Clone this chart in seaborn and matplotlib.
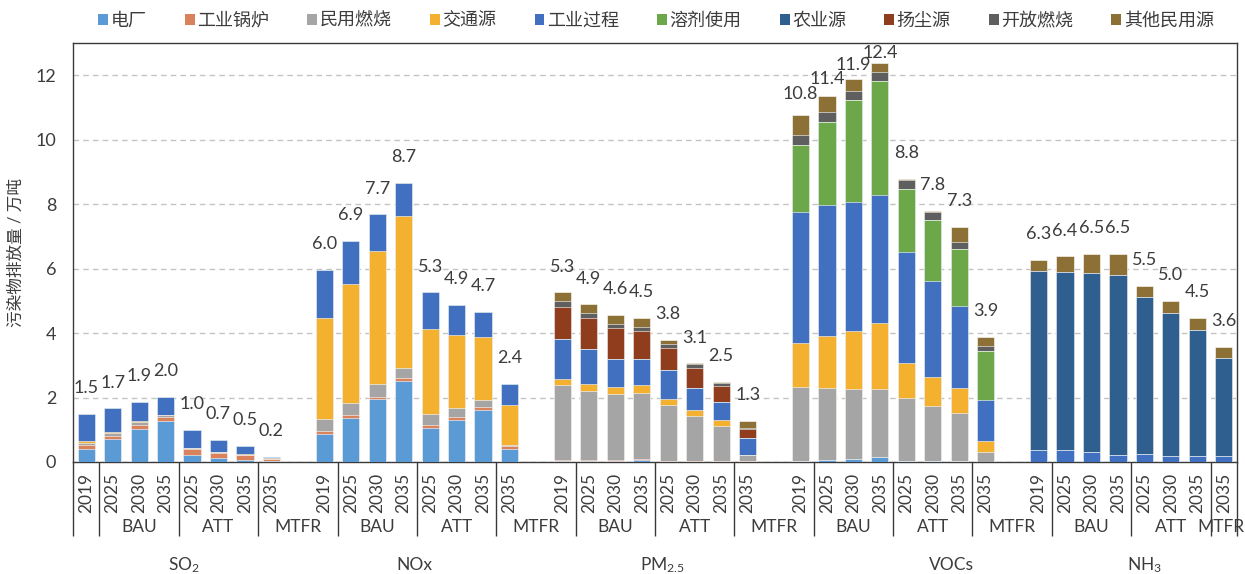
import numpy as np
import pandas as pd
import matplotlib
matplotlib.use("Agg")
import matplotlib.pyplot as plt
import matplotlib.transforms as mtransforms
from matplotlib.patches import Patch
import seaborn as sns

# ---- categories -------------------------------------------------------------
pollutants = [r"SO$_\mathregular{2}$", "NOx", r"PM$_\mathregular{2.5}$", "VOCs",
              r"NH$_\mathregular{3}$"]
years = ["2019", "2025", "2030", "2035", "2025", "2030", "2035", "2035"]
scenarios = ["BAU", "ATT", "MTFR"]
sources = ["电厂", "工业锅炉", "民用燃烧", "交通源", "工业过程",
           "溶剂使用", "农业源", "扬尘源", "开放燃烧", "其他民用源"]

# ---- emissions by source (万吨); per pollutant: 2019, BAU 25/30/35, ATT 25/30/35, MTFR 35
power = [0.40, 0.70, 1.02, 1.26, 0.22, 0.13, 0.06, 0.02,
         0.86, 1.36, 1.96, 2.50, 1.06, 1.29, 1.60, 0.39,
         0.02, 0.02, 0.02, 0.05, 0.01, 0.01, 0.01, 0.01,
         0.03, 0.05, 0.08, 0.17, 0.02, 0.02, 0.03, 0.01,
         0, 0, 0, 0, 0, 0, 0, 0]
boiler = [0.12, 0.12, 0.13, 0.15, 0.17, 0.15, 0.15, 0.07,
          0.10, 0.10, 0.05, 0.10, 0.10, 0.10, 0.10, 0.12,
          0.03, 0.03, 0.04, 0.03, 0.02, 0.02, 0.02, 0.01,
          0, 0, 0, 0, 0, 0, 0, 0,
          0, 0, 0, 0, 0, 0, 0, 0]
residential = [0.06, 0.07, 0.08, 0.04, 0.03, 0.02, 0.02, 0.01,
               0.37, 0.36, 0.40, 0.32, 0.32, 0.28, 0.21, 0.03,
               2.33, 2.15, 2.05, 2.05, 1.75, 1.40, 1.10, 0.19,
               2.31, 2.25, 2.17, 2.08, 1.97, 1.71, 1.48, 0.29,
               0, 0, 0, 0, 0, 0, 0, 0]
transport = [0.08, 0.05, 0.03, 0.02, 0.02, 0.01, 0.01, 0.01,
             3.15, 3.70, 4.15, 4.70, 2.64, 2.26, 1.98, 1.22,
             0.21, 0.21, 0.23, 0.26, 0.18, 0.18, 0.16, 0.01,
             1.35, 1.61, 1.82, 2.06, 1.09, 0.90, 0.78, 0.36,
             0, 0, 0, 0, 0, 0, 0, 0]
process = [0.84, 0.72, 0.61, 0.56, 0.55, 0.38, 0.26, 0.06,
           1.48, 1.35, 1.12, 1.05, 1.14, 0.94, 0.77, 0.67,
           1.24, 1.10, 0.87, 0.80, 0.89, 0.69, 0.56, 0.51,
           4.07, 4.05, 4.00, 3.96, 3.42, 3.00, 2.56, 1.26,
           0.37, 0.37, 0.30, 0.22, 0.24, 0.19, 0.18, 0.18]
solvent = [0, 0, 0, 0, 0, 0, 0, 0,
           0, 0, 0, 0, 0, 0, 0, 0,
           0, 0, 0, 0, 0, 0, 0, 0,
           2.09, 2.60, 3.15, 3.55, 1.97, 1.87, 1.77, 1.53,
           0, 0, 0, 0, 0, 0, 0, 0]
agriculture = [0, 0, 0, 0, 0, 0, 0, 0,
               0, 0, 0, 0, 0, 0, 0, 0,
               0, 0, 0, 0, 0, 0, 0, 0,
               0, 0, 0, 0, 0, 0, 0, 0,
               5.56, 5.54, 5.56, 5.57, 4.87, 4.43, 3.92, 3.06]
dust = [0, 0, 0, 0, 0, 0, 0, 0,
        0, 0, 0, 0, 0, 0, 0, 0,
        0.99, 0.97, 0.94, 0.86, 0.69, 0.62, 0.52, 0.29,
        0, 0, 0, 0, 0, 0, 0, 0,
        0, 0, 0, 0, 0, 0, 0, 0]
open_burning = [0, 0, 0, 0, 0, 0, 0, 0,
                0, 0, 0, 0, 0, 0, 0, 0,
                0.16, 0.14, 0.14, 0.13, 0.13, 0.12, 0.09, 0.05,
                0.31, 0.29, 0.30, 0.27, 0.29, 0.26, 0.21, 0.16,
                0, 0, 0, 0, 0, 0, 0, 0]
other_residential = [0, 0, 0, 0, 0, 0, 0, 0,
                     0, 0, 0, 0, 0, 0, 0, 0,
                     0.28, 0.27, 0.27, 0.28, 0.12, 0.02, 0.02, 0.20,
                     0.61, 0.52, 0.36, 0.28, 0.02, 0.02, 0.47, 0.26,
                     0.34, 0.47, 0.60, 0.67, 0.35, 0.37, 0.36, 0.34]

source_values = [power, boiler, residential, transport, process,
                 solvent, agriculture, dust, open_burning, other_residential]
colors = ["#5B9BD5", "#D9825B", "#A5A5A5", "#F3B12F", "#4170C0",
          "#6CA84A", "#2E5F8E", "#903D1E", "#5F5F5F", "#8C7035"]

# ---- style --------------------------------------------------------------------
sns.set_theme(style="white")
plt.rcParams["font.family"] = ["Lato", "Noto Sans CJK SC", "DejaVu Sans"]
plt.rcParams["mathtext.fontset"] = "custom"
plt.rcParams["mathtext.rm"] = "Lato"
plt.rcParams["mathtext.it"] = "Lato:italic"
text_color = "#3C3C3C"
line_color = "#3A3A3A"

# slot layout: 8 bars per pollutant, one empty slot between pollutants
n_per = len(years)
positions = [9 * p + j for p in range(len(pollutants)) for j in range(n_per)]

wide = pd.DataFrame({name: vals for name, vals in zip(sources, source_values)})
wide["pos"] = positions
cum = wide[sources].cumsum(axis=1)
totals = cum[sources[-1]].to_numpy()

fig = plt.figure(figsize=(12.45, 5.74), dpi=100)
ax = fig.add_axes([73 / 1245, 112 / 574, 1164 / 1245, 419 / 574])

# stacked bars: draw cumulative heights from the top layer down
for k in reversed(range(len(sources))):
    d = pd.DataFrame({"pos": wide["pos"], "height": cum[sources[k]]})
    sns.barplot(data=d, x="pos", y="height", native_scale=True, color=colors[k],
                saturation=1, width=0.65, errorbar=None, edgecolor="white",
                linewidth=0.4, ax=ax, zorder=3)

ax.set_xlim(-0.5, 43.5)
ax.set_ylim(0, 13)
ax.set_yticks(range(0, 13, 2))
ax.set_axisbelow(True)
ax.yaxis.grid(True, color="#C4C4C4", linestyle=(0, (4, 3)), linewidth=1)
ax.xaxis.grid(False)
for sp in ax.spines.values():
    sp.set_visible(True)
    sp.set_color(line_color)
    sp.set_linewidth(1)

ax.set_xticks(positions)
ax.set_xticklabels(years * len(pollutants), rotation=90, fontsize=12.5,
                   color=text_color)
ax.tick_params(axis="x", length=0, pad=8)
ax.tick_params(axis="y", length=0, pad=12, labelsize=13, labelcolor=text_color)
ax.set_xlabel("")
ax.set_ylabel("污染物排放量 / 万吨", fontsize=12, color=text_color)
ax.yaxis.label.set_va("center")
ax.yaxis.set_label_coords(-0.049, 0.5)

# total labels above each stack
for x, t in zip(positions, totals):
    off = 0.8 - 0.2 * max(0.0, t - 10)
    ax.text(x, t + off, f"{t:.1f}", ha="center", va="center",
            fontsize=13, color=text_color)

# multi-level category axis below the bars
trans = mtransforms.blended_transform_factory(ax.transData, ax.transAxes)
div_bottom = -74 / 419
dividers = [-0.5] + [0.5 + 3 * k for k in range(15)] + [43.5]
ax.vlines(dividers, div_bottom, 0, transform=trans, colors=line_color,
          linewidth=1, clip_on=False)
for k in range(15):
    lo, hi = 0.5 + 3 * k, min(3.5 + 3 * k, 43.5)
    xc = min((lo + hi) / 2, 42.9)
    ax.text(xc, -65 / 419, scenarios[k % 3], transform=trans,
            ha="center", va="center", fontsize=12.5, color=text_color)
pollutant_centers = [3.7, 12.4, 21.8, 32.7, 40.0]
for xc, name in zip(pollutant_centers, pollutants):
    ax.text(xc, -103 / 419, name, transform=trans, ha="center", va="center",
            fontsize=12.5, color=text_color)

# legend
handles = [Patch(facecolor=c, edgecolor="none") for c in colors]
fig.legend(handles, sources, loc="center", bbox_to_anchor=(0.527, 0.965),
           ncol=len(sources), frameon=False, handlelength=0.55,
           handleheight=0.55, handletextpad=0.15, columnspacing=2.1,
           fontsize=13, borderaxespad=0, labelcolor=text_color)

fig.savefig("out.png", dpi=100)
